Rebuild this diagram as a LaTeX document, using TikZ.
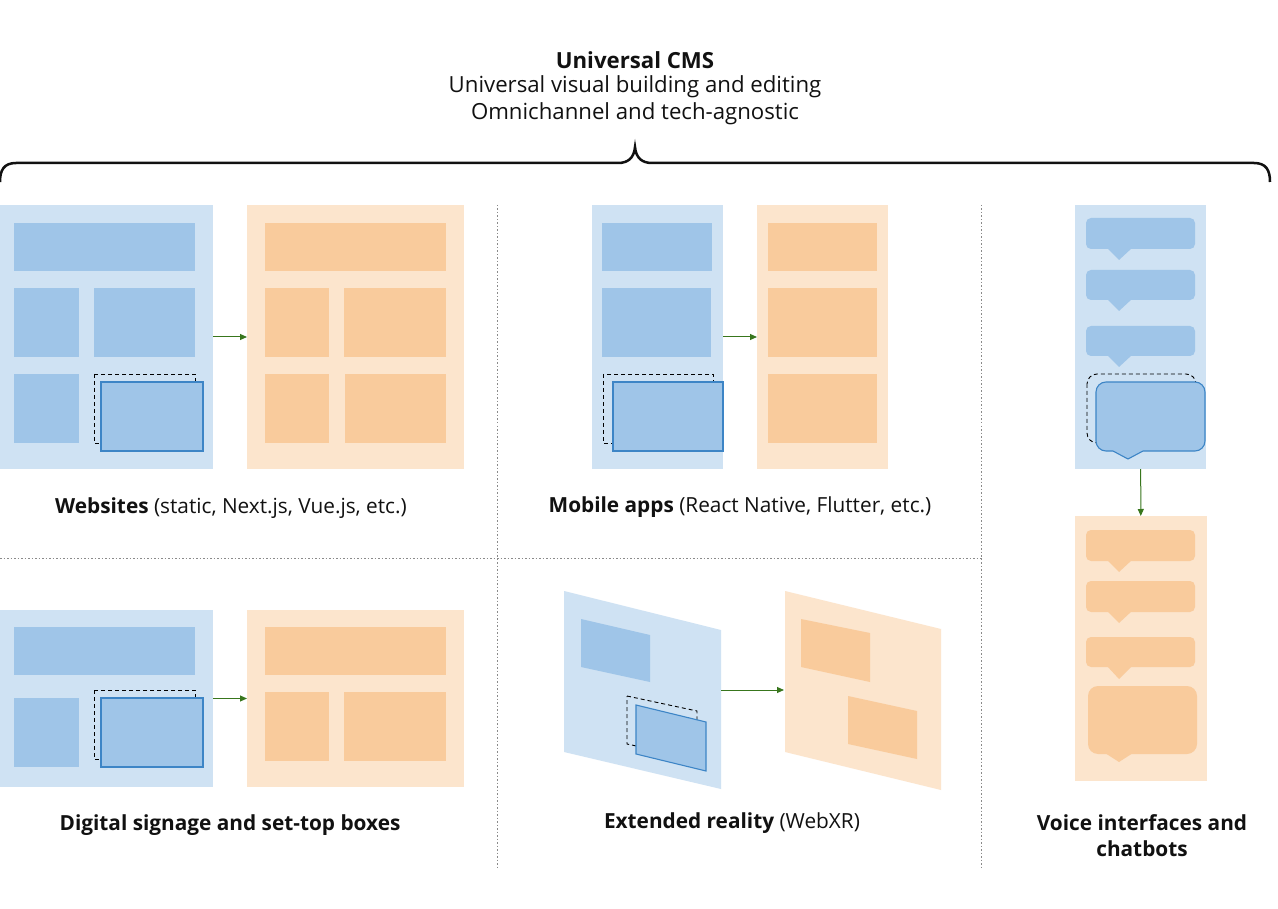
\documentclass[tikz,border=0pt]{standalone}
\usepackage{fontspec}
\setmainfont{Open Sans}
\usetikzlibrary{arrows.meta}
\definecolor{bbg}{HTML}{CFE2F3}
\definecolor{bblk}{HTML}{9FC5E8}
\definecolor{obg}{HTML}{FCE5CD}
\definecolor{oblk}{HTML}{F9CB9C}
\definecolor{bline}{HTML}{3D85C6}
\definecolor{arr}{HTML}{38761D}
\definecolor{divc}{HTML}{8A8A8A}
\definecolor{txt}{HTML}{111111}
\begin{document}
\begin{tikzpicture}[x=1pt,y=-1pt,
  panel/.style={draw=none,inner sep=0pt,outer sep=0pt,anchor=north west},
  bluebg/.style={panel,fill=bbg},
  orangebg/.style={panel,fill=obg},
  flow/.style={draw=arr,line width=1pt,-{Triangle[length=7pt,width=6pt]}},
  ghost/.style={draw=black,line width=0.9pt,dash pattern=on 4pt off 3pt},
  moved/.style={fill=bblk,draw=bline,line width=1.1pt},
  divider/.style={draw=divc,line width=0.9pt,dash pattern=on 1.5pt off 2pt},
  lbl/.style={font=\fontsize{20.8}{26}\selectfont,text=txt,align=center,inner sep=0pt},
  ttl/.style={font=\fontsize{22.2}{27}\selectfont,text=txt,align=center,inner sep=0pt}]
\useasboundingbox (0,0) rectangle (1278,909);
\fill[white] (0,0) rectangle (1278,909);

% title and brace
\node[ttl] (t1) at (635,60) {\bfseries Universal CMS};
\node[ttl] (t2) at (635,87) {Universal visual building and editing};
\node[ttl] (t3) at (635,114) {Omnichannel and tech-agnostic};
\draw[line width=2.5pt,txt] (0,182) .. controls (0,170) and (4,163) .. (16,163) -- (618,163)
  .. controls (628,163) and (634,158) .. (635,147)
  .. controls (636,158) and (642,163) .. (652,163) -- (1254,163)
  .. controls (1266,163) and (1270,170) .. (1270,182);

% dividers
\draw[divider] (497.5,205) -- (497.5,867);
\draw[divider] (981.5,205) -- (981.5,867);
\draw[divider] (0,558.5) -- (981.5,558.5);

% ---------- Websites ----------
\node[bluebg,minimum width=213pt,minimum height=264pt] (wb) at (0,205) {};
\fill[bblk] (14,223) rectangle (195,271);
\fill[bblk] (14,288) rectangle (79,357);
\fill[bblk] (94,288) rectangle (195,357);
\fill[bblk] (14,374) rectangle (79,443);
\draw[ghost] (94,374) rectangle (195,443);
\draw[moved] (101,382) rectangle (203,451);
\node[orangebg,minimum width=217pt,minimum height=264pt] (wo) at (247,205) {};
\fill[oblk] (265,223) rectangle (446,271);
\fill[oblk] (265,288) rectangle (329,357);
\fill[oblk] (344,288) rectangle (446,357);
\fill[oblk] (265,374) rectangle (329,443);
\fill[oblk] (345,374) rectangle (446,443);
\draw[flow] (wb) -- (wo);
\node[lbl] (wl) at (231,508) {\bfseries Websites\mdseries{} (static, Next.js, Vue.js, etc.)};

% ---------- Mobile apps ----------
\node[bluebg,minimum width=131pt,minimum height=264pt] (mb) at (592,205) {};
\fill[bblk] (602,223) rectangle (712,271);
\fill[bblk] (602,288) rectangle (711,357);
\draw[ghost] (603,374) rectangle (713,443);
\draw[moved] (613,382) rectangle (723,451);
\node[orangebg,minimum width=131pt,minimum height=264pt] (mo) at (757,205) {};
\fill[oblk] (768,223) rectangle (877,271);
\fill[oblk] (768,288) rectangle (877,357);
\fill[oblk] (768,374) rectangle (877,443);
\draw[flow] (mb) -- (mo);
\node[lbl] (ml) at (740,507) {\bfseries Mobile apps\mdseries{} (React Native, Flutter, etc.)};

% ---------- Digital signage ----------
\node[bluebg,minimum width=213pt,minimum height=177pt] (sb) at (0,610) {};
\fill[bblk] (14,627) rectangle (195,675);
\fill[bblk] (14,698) rectangle (79,767);
\draw[ghost] (94,690) rectangle (195,759);
\draw[moved] (101,698) rectangle (203,767);
\node[orangebg,minimum width=217pt,minimum height=177pt] (so) at (247,610) {};
\fill[oblk] (265,627) rectangle (446,675);
\fill[oblk] (265,692) rectangle (329,761);
\fill[oblk] (344,692) rectangle (446,761);
\draw[flow] (sb) -- (so);
\node[lbl] (sl) at (230,825) {\bfseries Digital signage and set-top boxes};

% ---------- Extended reality ----------
\fill[bbg] (564,591) -- (721,630) -- (721,789) -- (564,752) -- cycle;
\fill[bblk] (581,619) -- (650,635) -- (650,682) -- (581,667) -- cycle;
\draw[ghost] (627,696) -- (697,711) -- (697,759) -- (627,744) -- cycle;
\draw[moved] (636,705) -- (706,722) -- (706,771) -- (636,754) -- cycle;
\fill[obg] (785,591) -- (941,629) -- (941,790) -- (785,752) -- cycle;
\fill[oblk] (801,619) -- (870,633) -- (870,682) -- (801,667) -- cycle;
\fill[oblk] (848,696) -- (917,711) -- (917,759) -- (848,744) -- cycle;
\coordinate (xa) at (721,690);
\coordinate (xb) at (784,690);
\draw[flow] (xa) -- (xb);
\node[lbl] (xl) at (732,823) {\bfseries Extended reality\mdseries{} (WebXR)};

% ---------- Voice interfaces ----------
\node[bluebg,minimum width=131pt,minimum height=264pt] (vb) at (1075,205) {};
\fill[bblk,rounded corners=5pt] (1086,218) rectangle (1195,249);
\fill[bblk] (1107,248) -- (1119,260) -- (1132,248) -- cycle;
\fill[bblk,rounded corners=5pt] (1086,270) rectangle (1195,300);
\fill[bblk] (1107,299) -- (1119,311) -- (1132,299) -- cycle;
\fill[bblk,rounded corners=5pt] (1086,326) rectangle (1195,356);
\fill[bblk] (1107,355) -- (1119,367) -- (1132,355) -- cycle;
\draw[ghost,rounded corners=10pt] (1087,374) rectangle (1196,443);
\draw[moved] (1143,451) [rounded corners=10pt] -- (1205,451) -- (1205,382) -- (1096,382) -- (1096,451) [sharp corners] -- (1113,451) -- (1128,459) -- cycle;
\node[orangebg,minimum width=132pt,minimum height=265pt] (vo) at (1075,516) {};
\fill[oblk,rounded corners=5pt] (1086,530) rectangle (1195,561);
\fill[oblk] (1107,560) -- (1119,572) -- (1132,560) -- cycle;
\fill[oblk,rounded corners=5pt] (1086,581) rectangle (1195,612);
\fill[oblk] (1107,611) -- (1119,623) -- (1132,611) -- cycle;
\fill[oblk,rounded corners=5pt] (1086,637) rectangle (1195,667);
\fill[oblk] (1107,666) -- (1119,679) -- (1132,666) -- cycle;
\fill[oblk,rounded corners=10pt] (1088,686) rectangle (1197,754);
\fill[oblk] (1105,753) -- (1119,762) -- (1133,753) -- cycle;
\draw[flow] (vb) -- (vo);
\node[lbl] (vl) at (1142,836) {\bfseries Voice interfaces and\\\bfseries chatbots};
\end{tikzpicture}
\end{document}
